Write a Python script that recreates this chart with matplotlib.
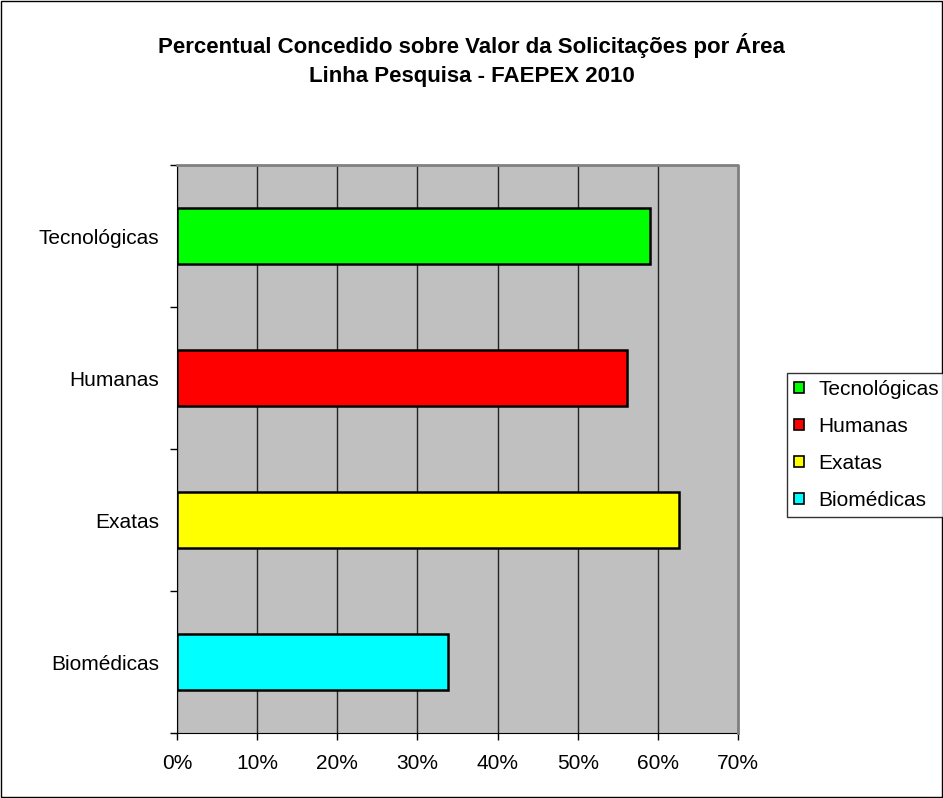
import matplotlib
matplotlib.use("Agg")
import matplotlib.pyplot as plt
from matplotlib.patches import Rectangle, Patch
import numpy as np

plt.rcParams['font.family'] = ['Liberation Sans', 'DejaVu Sans']

categories = ["Biomédicas", "Exatas", "Humanas", "Tecnológicas"]
values = [33.8, 62.7, 56.2, 59.0]
colors = ["#00FFFF", "#FFFF00", "#FF0000", "#00FF00"]
xticks = [0, 10, 20, 30, 40, 50, 60, 70]
xtick_labels = ["0%", "10%", "20%", "30%", "40%", "50%", "60%", "70%"]
title = "Percentual Concedido sobre Valor da Solicitações por Área\nLinha Pesquisa - FAEPEX 2010"

fig = plt.figure(figsize=(9.43, 7.98), dpi=100)
ax = fig.add_axes([177/943, 1-733/798, (738-177)/943, (733-165)/798])
ax.set_facecolor("#C0C0C0")

y = np.arange(len(categories))
ax.barh(y, values, height=0.4, color=colors, edgecolor="black", linewidth=1.8, zorder=3)

ax.set_xlim(0, 70)
ax.set_ylim(-0.5, len(categories) - 0.5)
ax.set_xticks(xticks)
ax.set_xticklabels(xtick_labels, fontsize=15)
ax.xaxis.grid(True, color="#222222", linewidth=1.0, zorder=1)
ax.set_axisbelow(True)
ax.tick_params(axis="x", direction="out", length=5, width=1, pad=10)

ax.set_yticks(y)
ax.set_yticklabels(categories, fontsize=15)
ax.set_yticks(np.arange(len(categories) + 1) - 0.5, minor=True)
ax.tick_params(axis="y", which="major", length=0, pad=13)
ax.tick_params(axis="y", which="minor", direction="out", length=5, width=1)

for s in ["top", "right"]:
    ax.spines[s].set_visible(False)
ax.spines["left"].set_color("black")
ax.spines["bottom"].set_color("black")
ax.plot([1, 1, 0], [0, 1, 1], transform=ax.transAxes, color="#808080", linewidth=2,
        clip_on=False, zorder=5)

fig.text(0.5, 1 - 60/798, title, ha="center", va="center",
         fontsize=16, fontweight="bold", linespacing=1.55)

handles = [Patch(facecolor=c, edgecolor="black", linewidth=1.2) for c in colors[::-1]]
leg = fig.legend(handles, categories[::-1], loc="upper left",
                 bbox_to_anchor=(787/943, 1-373/798), fontsize=15,
                 frameon=True, fancybox=False, edgecolor="black",
                 handlelength=0.45, handleheight=0.45, handletextpad=0.7,
                 labelspacing=0.86, borderpad=0.35, borderaxespad=0)
leg.get_frame().set_linewidth(1.0)

fig.patches.append(Rectangle((0.001, 0.001), 0.998, 0.998, transform=fig.transFigure,
                             fill=False, edgecolor="black", linewidth=1.0))

fig.savefig("out.png", dpi=100)
